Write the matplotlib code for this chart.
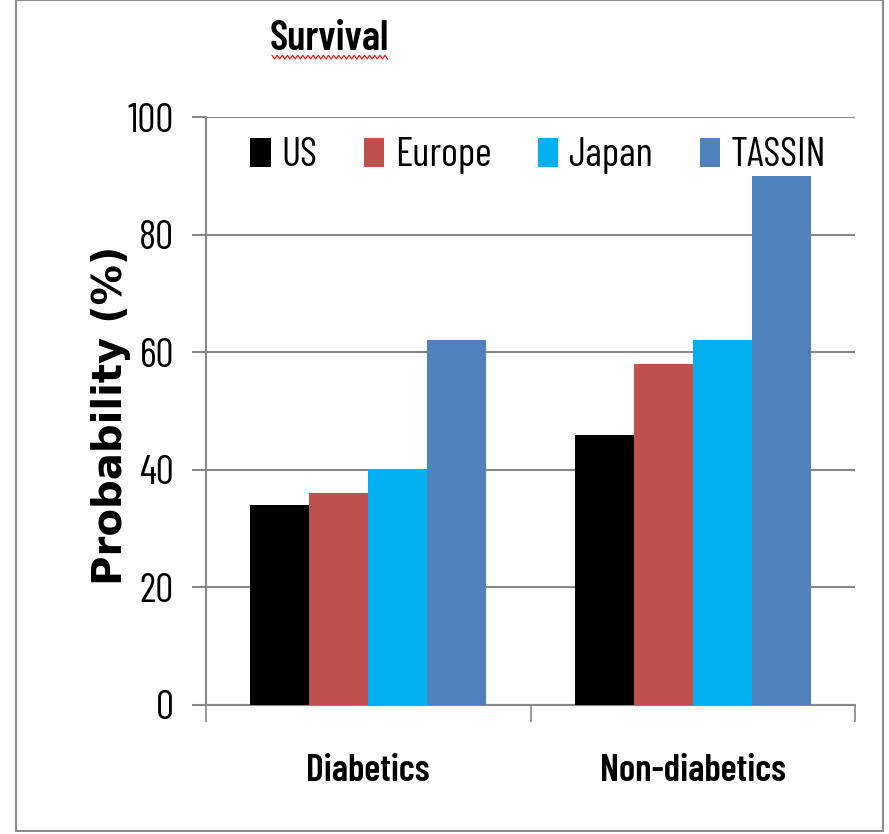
import numpy as np
import matplotlib
matplotlib.use('Agg')
import matplotlib.pyplot as plt
from matplotlib.patches import Rectangle
from matplotlib.lines import Line2D

# Data
groups = ['Diabetics', 'Non-diabetics']
series = ['US', 'Europe', 'Japan', 'TASSIN']
us = [34, 46]
europe = [36, 58]
japan = [40, 62]
tassin = [62, 90]
colors = ['#000000', '#C0504D', '#00B0F0', '#4F81BD']
yticks = [0, 20, 40, 60, 80, 100]

# narrow humanist look, close to the squeezed Calibri of the original
plt.rcParams['font.family'] = ['Barlow Condensed', 'DejaVu Sans']
grid_col = '#878787'

fig = plt.figure(figsize=(8.89, 8.34), dpi=100)
ax = fig.add_axes([0.2317, 0.1547, 0.7301, 0.7050])

values = [us, europe, japan, tassin]
x = np.arange(len(groups))
width = 0.182
for i, (name, vals) in enumerate(zip(series, values)):
    ax.bar(x + (i - 1.5) * width, vals, width, color=colors[i], label=name, zorder=3)

ax.set_xlim(-0.5, 1.5)
ax.set_ylim(0, 100)
ax.set_yticks(yticks)
ax.set_yticklabels([str(t) for t in yticks], fontsize=29)
ax.yaxis.grid(True, color=grid_col, linewidth=1.5, zorder=0)

# category boundary ticks, labels in the middle
ax.set_xticks([-0.5, 0.5, 1.5])
ax.set_xticklabels([])
ax.set_xticks(x, minor=True)
ax.set_xticklabels(groups, minor=True, fontsize=27, fontweight=600)
ax.tick_params(axis='x', which='minor', length=0, pad=35)
ax.tick_params(axis='x', which='major', length=12, width=1.2, color=grid_col, direction='out')
ax.tick_params(axis='y', length=10, width=1.5, color=grid_col, direction='out', pad=13)

for side in ['top', 'right']:
    ax.spines[side].set_visible(False)
for side in ['left', 'bottom']:
    ax.spines[side].set_color(grid_col)
    ax.spines[side].set_linewidth(1.5)

ax.set_ylabel('Probability (%)', fontsize=29, fontweight='bold', family='DejaVu Sans')
ax.yaxis.set_label_coords(-0.116, 0.493)

ax.legend(loc='center', ncol=4, frameon=False, fontsize=29,
          bbox_to_anchor=(0.512, 0.934), handlelength=0.5, handleheight=0.74,
          handletextpad=0.27, columnspacing=1.15, borderpad=0)

fig.text(0.370, 0.953, 'Survival', fontsize=30, fontweight=600, ha='center', va='center')
# red spell-check squiggle under the title
zx = np.linspace(0.306, 0.436, 46)
zy = 0.9315 + np.where(np.arange(46) % 2 == 0, 0.0022, -0.0022)
fig.add_artist(Line2D(zx, zy, color='red', linewidth=0.8, transform=fig.transFigure))

# outer frame
fig.add_artist(Rectangle((0.018, 0.004), 0.975, 0.996, fill=False, edgecolor='#8c8c8c',
                         linewidth=1.5, transform=fig.transFigure))

plt.savefig('out.png', dpi=100)
plt.close()
